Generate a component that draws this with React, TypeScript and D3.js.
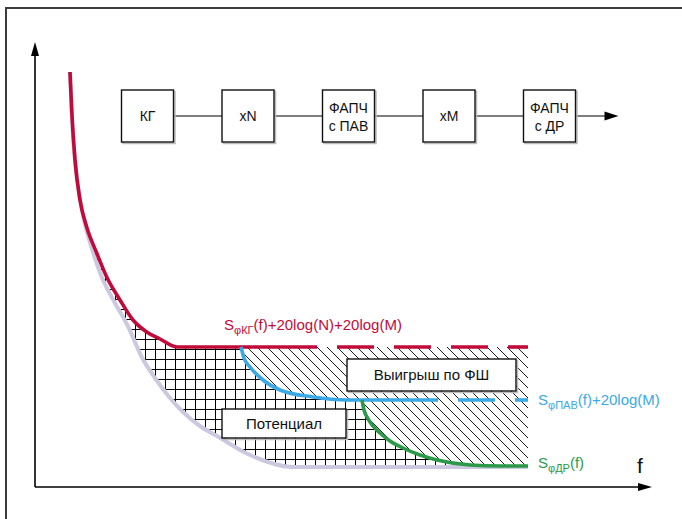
import React from "react";
import * as d3 from "d3";

const width = 682;
const height = 519;

// curve samples: frequency offset (arb. units) vs phase noise level (arb. units)
const redF = [7, 7.34, 8, 9, 10.34, 12.34, 14.34, 17, 19.6, 22.34, 25, 28.4];
const redS = [83, 75.4, 65.4, 57.4, 52, 46.8, 42, 37.4, 33.4, 31, 29.6, 28];
const grayF = [7, 7.4, 8.2, 9.66, 11.46, 13.34, 15.66, 18.66, 21.34, 24, 27, 29.6, 33, 36.4, 43, 51.6];
const grayS = [83, 73.4, 63.4, 54, 47.4, 42, 37.4, 32, 26, 21.8, 17.8, 15, 12.2, 10.2, 6.4, 4];
const blueF = [41.2, 41.8, 43, 45.6, 49, 55.6, 62.4, 65.6];
const blueS = [28, 25.8, 24, 21.4, 19.4, 18, 17.4, 17.4];
const greenF = [65.4, 65.8, 66.4, 67.6, 69, 71, 73.6, 77, 80.4, 87, 93];
const greenS = [17.4, 15.4, 14, 12.2, 10.8, 9.2, 7.8, 6.4, 5.4, 4.4, 4.2];

const fEnd = 98.6; // where all curves stop
const redSolidEnd = 56.4;
const blueSolidEnd = 80.6;
const fMax = 123.4;
const sMax = 89;

const blocks = [["КГ"], ["xN"], ["ФАПЧ", "с ПАВ"], ["xM"], ["ФАПЧ", "с ДР"]];

const RED = "#c20a3a";
const BLUE = "#3aa9e6";
const GREEN = "#2a9a48";
const GRAY = "#ccc8e0";
const FONT = "'Liberation Sans', Arial, sans-serif";

const pts = (f: number[], s: number[]): [number, number][] => f.map((v, i) => [v, s[i]]);
const last = (a: number[]) => a[a.length - 1];

export default function App() {
  const x = d3.scaleLinear().domain([0, fMax]).range([35, 652]);
  const y = d3.scaleLinear().domain([0, sMax]).range([487, 42]);

  const redFull = [...pts(redF, redS), [redSolidEnd, last(redS)], [fEnd, last(redS)]] as [number, number][];
  const grayFull = [...pts(grayF, grayS), [fEnd, last(grayS)]] as [number, number][];
  const blueFull = [...pts(blueF, blueS), [blueSolidEnd, last(blueS)], [fEnd, last(blueS)]] as [number, number][];
  const greenFull = [...pts(greenF, greenS), [fEnd, last(greenS)]] as [number, number][];

  const line = d3
    .line<[number, number]>()
    .x((d) => x(d[0]))
    .y((d) => y(d[1]))
    .curve(d3.curveMonotoneX);
  const areaTo = (base: number) =>
    d3
      .area<[number, number]>()
      .x((d) => x(d[0]))
      .y0(y(base))
      .y1((d) => y(d[1]))
      .curve(d3.curveMonotoneX);

  const gridArea = areaTo(0)(redFull);
  const aboveGray = areaTo(sMax)(grayFull);
  const hatchBlue = areaTo(last(redS))(blueFull);
  const hatchGreen = areaTo(last(blueS))(greenFull);

  const redSolid = line(redFull.slice(0, -1));
  const redDash = line(redFull.slice(-2));
  const blueSolid = line(blueFull.slice(0, -1));
  const blueDash = line(blueFull.slice(-2));

  // block diagram
  const bx = d3.scalePoint<number>().domain(blocks.map((_, i) => i)).range([147.5, 549.5]);
  const bw = 52;
  const by = 90;
  const bh = 52;
  const cy = by + bh / 2;

  const box = (x0: number, y0: number, w: number, h: number, key: string) => (
    <g key={key}>
      <rect x={x0 + 1.5} y={y0 + 1.5} width={w} height={h} fill="none" stroke="#bbb" strokeWidth={1.5} />
      <rect x={x0} y={y0} width={w} height={h} fill="#fff" stroke="#111" strokeWidth={1.4} />
    </g>
  );

  return (
    <svg width={width} height={height} style={{ position: "absolute", left: 0, top: 0 }} fontFamily={FONT}>
      <defs>
        <pattern id="grid" width={10} height={10} patternUnits="userSpaceOnUse">
          <rect width={10} height={10} fill="#fff" />
          <path d="M5.5,0V10M0,9.5H10" stroke="#000" strokeWidth={1} />
        </pattern>
        <pattern id="hatch" width={10} height={10} patternUnits="userSpaceOnUse">
          <rect width={10} height={10} fill="#fff" />
          <path d="M0,0L10,10M-1,9L1,11M9,-1L11,1" stroke="#000" strokeWidth={0.9} />
        </pattern>
        <clipPath id="aboveGray">
          <path d={aboveGray || ""} />
        </clipPath>
      </defs>

      <rect x={0} y={0} width={width} height={height} fill="#fff" />
      <rect x={6} y={8} width={720} height={600} fill="none" stroke="#3c3c3c" strokeWidth={2} />

      {/* regions */}
      <path d={gridArea || ""} fill="url(#grid)" clipPath="url(#aboveGray)" />
      <path d={hatchBlue || ""} fill="url(#hatch)" />
      <path d={hatchGreen || ""} fill="url(#hatch)" />

      {/* curves */}
      <path d={line(grayFull) || ""} fill="none" stroke={GRAY} strokeWidth={4} />
      <path d={redSolid || ""} fill="none" stroke={RED} strokeWidth={3.6} />
      <path d={redDash || ""} fill="none" stroke={RED} strokeWidth={3.6} strokeDasharray="37 20" strokeDashoffset={37} />
      <path d={blueSolid || ""} fill="none" stroke={BLUE} strokeWidth={3.6} />
      <path d={blueDash || ""} fill="none" stroke={BLUE} strokeWidth={3.6} strokeDasharray="37 20" strokeDashoffset={37} />
      <path d={line(greenFull) || ""} fill="none" stroke={GREEN} strokeWidth={3.6} />

      {/* region labels */}
      {box(347, 359, 169, 32, "win")}
      <text x={431.5} y={380} textAnchor="middle" fontSize={15} fill="#111">Выигрыш по ФШ</text>
      {box(222, 409, 124, 29, "pot")}
      <text x={284} y={429} textAnchor="middle" fontSize={15} fill="#111">Потенциал</text>

      {/* curve labels */}
      <text x={224} y={330} fontSize={15} fill={RED}>
        S<tspan fontSize={11} dy={4}>φКГ</tspan>
        <tspan dy={-4}>(f)+20log(N)+20log(M)</tspan>
      </text>
      <text x={538} y={405} fontSize={15} fill={BLUE}>
        S<tspan fontSize={11} dy={4}>φПАВ</tspan>
        <tspan dy={-4}>(f)+20log(M)</tspan>
      </text>
      <text x={538} y={468} fontSize={15} fill={GREEN}>
        S<tspan fontSize={11} dy={4}>φДР</tspan>
        <tspan dy={-4}>(f)</tspan>
      </text>

      {/* axes */}
      <line x1={x(0)} y1={y(0)} x2={x(0)} y2={y(sMax) + 12} stroke="#000" strokeWidth={1.6} />
      <path d={`M${x(0)},${y(sMax)}l-4,14h8z`} fill="#000" />
      <line x1={x(0)} y1={y(0)} x2={x(fMax) - 12} y2={y(0)} stroke="#000" strokeWidth={1.6} />
      <path d={`M${x(fMax)},${y(0)}l-14,-4v8z`} fill="#000" />
      <text x={637} y={473} fontSize={21} fill="#111">f</text>

      {/* block diagram */}
      <line x1={bx(0)!} y1={cy} x2={bx(blocks.length - 1)! + bw / 2 + 30} y2={cy} stroke="#000" strokeWidth={1.2} />
      <path d={`M${bx(blocks.length - 1)! + bw / 2 + 43},${cy}l-14,-4.5v9z`} fill="#000" />
      {blocks.map((lines, i) => {
        const cx = bx(i)!;
        return (
          <g key={i}>
            {box(cx - bw / 2, by, bw, bh, "b" + i)}
            {lines.map((t, j) => (
              <text
                key={j}
                x={cx}
                y={lines.length === 1 ? cy + 5 : cy - 3 + j * 18}
                textAnchor="middle"
                fontSize={14}
                fill="#111"
              >
                {t}
              </text>
            ))}
          </g>
        );
      })}
    </svg>
  );
}
